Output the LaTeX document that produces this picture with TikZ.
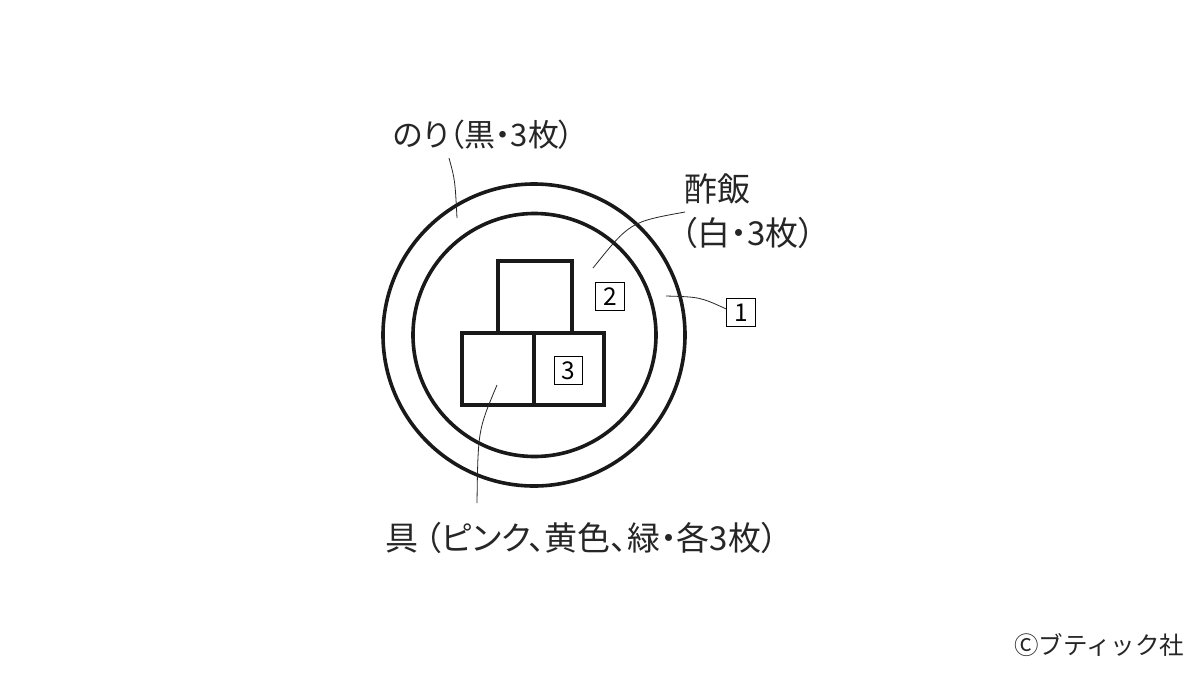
\documentclass[tikz,border=0pt]{standalone}
\usepackage{fontspec}
\newfontfamily\jp[RawFeature=+palt]{Noto Sans CJK JP}
\newfontfamily\jpfull{Noto Sans CJK JP}
\begin{document}
\begin{tikzpicture}[x=1pt,y=-1pt,
  thick line/.style={line width=3.6pt, black!90},
  leader/.style={line width=0.8pt, black!85},
  numbox/.style={draw, line width=0.9pt, inner sep=0pt, minimum width=28.5pt, minimum height=28.5pt, font=\jp\fontsize{24.5}{24.5}\selectfont},
  label/.style={inner sep=0pt, anchor=west, font=\jp\fontsize{31}{31}\selectfont, black!85},
  biglabel/.style={label, font=\jp\fontsize{33}{33}\selectfont}]
\useasboundingbox[fill=white] (0,0) rectangle (1200,675);
% circles
\draw[thick line] (534,335) circle[radius=151pt];
\draw[thick line] (534.5,335) circle[radius=121.5pt];
% squares
\draw[thick line] (498,333) rectangle (572,261);
\draw[thick line] (462,333) rectangle (534,405);
\draw[thick line] (534,333) rectangle (604,405);
% number boxes
\node[numbox] (b2) at (610,296.5) {2};
\node[numbox] (b3) at (568.5,370.5) {3};
\node[numbox] (b1) at (741,312.5) {1};
% labels
\node[label] (nori) at (393,135) {のり（黒・3枚）};
\node[biglabel] (sumeshi) at (684,189) {酢飯};
\node[biglabel] (shiro) at (681,232.5) {（白・3枚）};
\node[biglabel] (gu) at (385,537.5) {具\kern7pt（ピンク、黄色、緑・各3枚）};
\node[inner sep=0pt, anchor=west, font=\jpfull\fontsize{24.5}{24.5}\selectfont, black!85] (copy) at (1014,645) {Ⓒブティック社};
% leader ends
\coordinate (p1) at (457,218);
\coordinate (p2) at (593,268);
\coordinate (p3) at (666,296);
\coordinate (p4) at (497,385);
\draw[leader] (449,158) .. controls (455,180) .. (p1);
\draw[leader] (685,212) .. controls (630,222) .. (p2);
\draw[leader] (p3) .. controls (700,297) .. (b1.west |- 0,309);
\draw[leader] (p4) .. controls (478,430) .. (477,503);
\end{tikzpicture}
\end{document}
